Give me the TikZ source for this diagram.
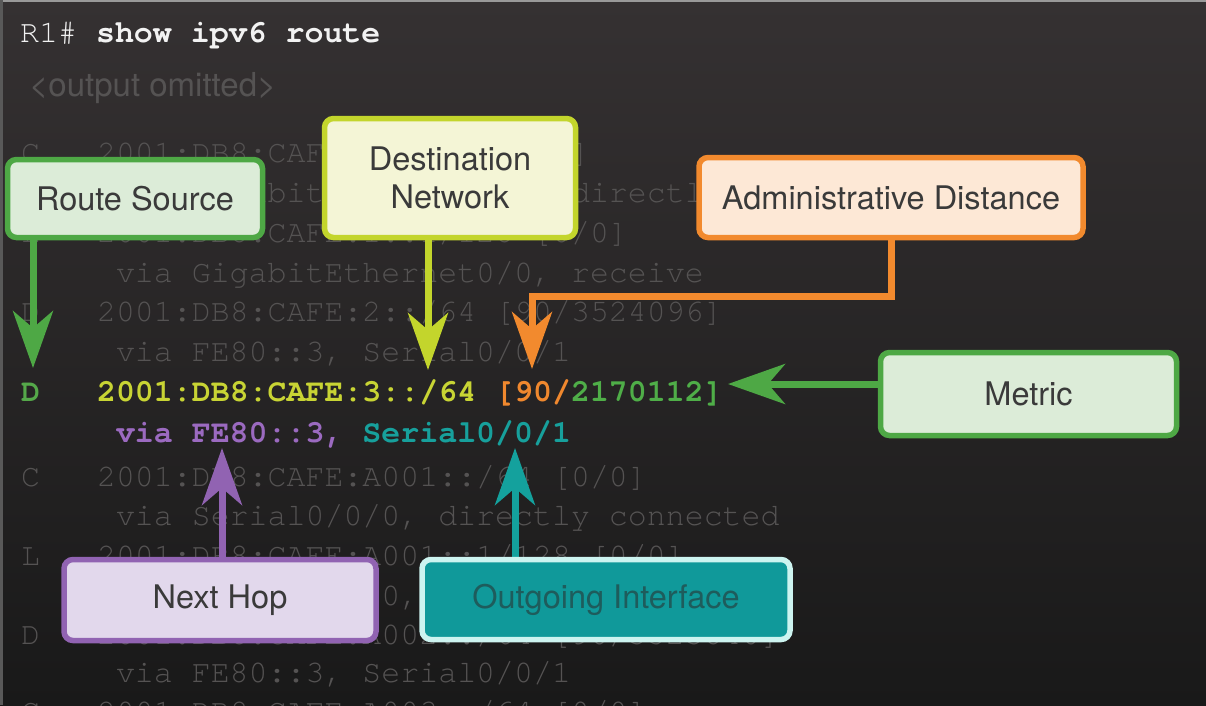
\documentclass[tikz,border=0pt]{standalone}
\usepackage{fontspec}
\setmainfont{TeX Gyre Heros}
\newfontfamily\cour{texgyrecursor}[Extension=.otf, UprightFont=*-regular, BoldFont=*-bold]
\usetikzlibrary{arrows.meta}
\pgfdeclarelayer{bglayer}
\pgfdeclarelayer{arrowlayer}
\pgfsetlayers{bglayer,arrowlayer,main}
\definecolor{bgtop}{HTML}{353132}
\definecolor{bgbot}{HTML}{191919}
\definecolor{dim}{HTML}{555353}
\definecolor{cmdwhite}{HTML}{F2F2F2}
\definecolor{grn}{HTML}{4EA845}
\definecolor{grnfill}{HTML}{DCECD8}
\definecolor{ylw}{HTML}{C3D52C}
\definecolor{ylwfill}{HTML}{F4F5D6}
\definecolor{org}{HTML}{F28A2E}
\definecolor{orgfill}{HTML}{FDE8D6}
\definecolor{pur}{HTML}{9163B2}
\definecolor{purfill}{HTML}{E2D8EC}
\definecolor{tea}{HTML}{14A19D}
\definecolor{teafill}{HTML}{10999A}
\definecolor{teaedge}{HTML}{CDF4F0}
\definecolor{boxtext}{HTML}{3A3A3A}
\definecolor{teatext}{HTML}{1E5C5C}
\definecolor{hD}{HTML}{55A84A}
\definecolor{hAddr}{HTML}{C8D434}
\definecolor{hAD}{HTML}{F0882E}
\definecolor{hMet}{HTML}{4FAE48}
\definecolor{hHop}{HTML}{9B6AC0}
\definecolor{hInt}{HTML}{17A09C}
\tikzset{
  lbl/.style={rounded corners=9pt, line width=5.5pt, font=\fontsize{32.5}{38}\selectfont, text=boxtext, align=center, inner sep=0pt},
  code/.style={anchor=base west, inner sep=0pt, font=\cour\fontsize{31.6}{38}\selectfont},
  dimcode/.style={code, text=dim},
  arr/.style={line width=7pt, -{Stealth[length=57pt,width=40pt,inset=17pt]}},
}
\begin{document}
\begin{tikzpicture}[x=1pt,y=-1pt]
\useasboundingbox (0,0) rectangle (1206,705);

% label boxes
\node[lbl, draw=grn, fill=grnfill, minimum width=255pt, minimum height=78pt] (src) at (135,198.5) {Route Source};
\node[lbl, draw=ylw, fill=ylwfill, minimum width=251pt, minimum height=119pt] (dest) at (450,178) {Destination\\Network};
\node[lbl, draw=org, fill=orgfill, minimum width=384pt, minimum height=80pt] (adm) at (891,197.5) {Administrative Distance};
\node[lbl, draw=grn, fill=grnfill, minimum width=296pt, minimum height=83pt] (met) at (1028.5,394) {Metric};
\node[lbl, draw=pur, fill=purfill, minimum width=312pt, minimum height=81pt] (hop) at (220,600) {Next Hop};
\node[lbl, draw=teaedge, fill=teafill, text=teatext, minimum width=368pt, minimum height=80pt] (out) at (606,599.5) {Outgoing Interface};

\begin{pgfonlayer}{bglayer}
\shade[top color=bgtop, bottom color=bgbot] (0,0) rectangle (1206,705);
\draw[line width=2pt, color=black!40] (0,1) -- (1206,1);
\draw[line width=3pt, color=black!65] (1.5,0) -- (1.5,705);

\node[code, text=cmdwhite] (cmd) at (20,42) {R1\# \textbf{show ipv6 route}};
\node[anchor=base west, inner sep=0pt, text=dim, font=\fontsize{33}{38}\selectfont] (omit) at (29,96) {<output omitted>};
\node[dimcode] (r0) at (21,162) {C~~~2001:DB8:CAFE:1::/64 [0/0]};
\node[dimcode] (r1) at (21,202) {~~~~~via GigabitEthernet0/0, directly connected};
\node[dimcode] (r2) at (21,242) {L~~~2001:DB8:CAFE:1::1/128 [0/0]};
\node[dimcode] (r3) at (21,282) {~~~~~via GigabitEthernet0/0, receive};
\node[dimcode] (r4) at (21,321) {D~~~2001:DB8:CAFE:2::/64 [90/3524096]};
\node[dimcode] (r5) at (21,361) {~~~~~via FE80::3, Serial0/0/1};
\node[code] (r6) at (21,401) {\bfseries\textcolor{hD}{D}~~~\textcolor{hAddr}{2001:DB8:CAFE:3::/64} \textcolor{hAD}{[90/}\textcolor{hMet}{2170112]}};
\node[code] (r7) at (21,442) {\bfseries ~~~~~\textcolor{hHop}{via FE80::3,} \textcolor{hInt}{Serial0/0/1}};
\node[dimcode] (r8) at (21,486) {C~~~2001:DB8:CAFE:A001::/64 [0/0]};
\node[dimcode] (r9) at (21,525) {~~~~~via Serial0/0/0, directly connected};
\node[dimcode] (r10) at (21,565) {L~~~2001:DB8:CAFE:A001::1/128 [0/0]};
\node[dimcode] (r11) at (21,605) {~~~~~via Serial0/0/0, receive};
\node[dimcode] (r12) at (21,644) {D~~~2001:DB8:CAFE:A002::/64 [90/3523840]};
\node[dimcode] (r13) at (21,682) {~~~~~via FE80::3, Serial0/0/1};
\node[dimcode] (r14) at (21,721) {C~~~2001:DB8:CAFE:A003::/64 [0/0]};
\end{pgfonlayer}

% arrow tips
\coordinate (srctip) at (33,368);
\coordinate (desttip) at (428,370);
\coordinate (admcorner) at (532,296);
\coordinate (admtip) at (532,369);
\coordinate (mettip) at (728,384);
\coordinate (hoptip) at (222,448);
\coordinate (outtip) at (515,448);

\begin{pgfonlayer}{arrowlayer}
\draw[arr, grn] (src.south -| srctip) -- (srctip);
\draw[arr, ylw] (dest.south -| desttip) -- (desttip);
\draw[arr, org] (adm.south) |- (admcorner) -- (admtip);
\draw[arr, grn] (met.west |- mettip) -- (mettip);
\draw[arr, pur] (hop.north -| hoptip) -- (hoptip);
\draw[arr, tea] (out.north -| outtip) -- (outtip);
\end{pgfonlayer}
\end{tikzpicture}
\end{document}
